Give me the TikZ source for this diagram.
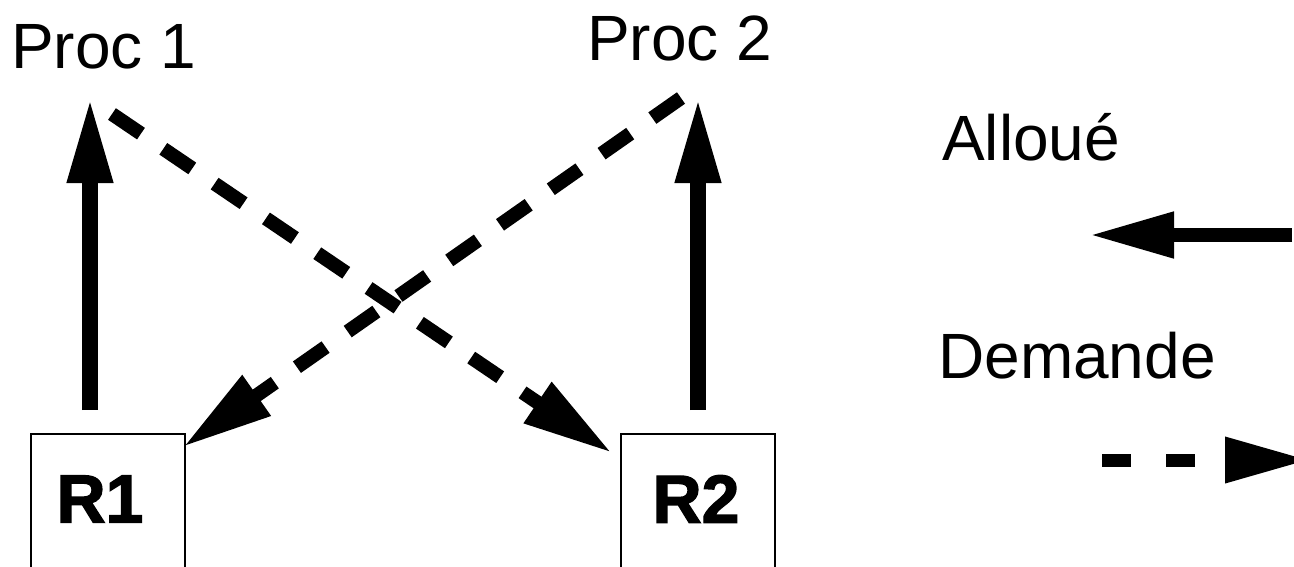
\documentclass[tikz,border=0pt]{standalone}
\usepackage{fontspec}
\setmainfont{Liberation Sans}
\newfontfamily\heavyfont[FakeBold=2]{Liberation Sans Bold}
\usetikzlibrary{arrows.meta}
\begin{document}
\begin{tikzpicture}[x=1pt,y=-1pt,
  lbl/.style={inner sep=0pt,anchor=base west,font=\fontsize{64}{77}\selectfont},
  resbox/.style={draw,line width=2pt,minimum width=154pt,minimum height=142pt,inner sep=0pt,anchor=north west},
  restext/.style={inner sep=0pt,font=\heavyfont\fontsize{68}{80}\selectfont},
  alloc/.style={line width=16pt,-{Triangle[length=86pt,width=42pt]}},
  reqst/.style={line width=14pt,dash pattern=on 35pt off 27pt,-{Triangle[length=90pt,width=46pt]}},
  legsolid/.style={line width=14pt,-{Triangle[length=85pt,width=43pt]}},
  legdash/.style={line width=13pt,dash pattern=on 29pt off 35pt,-{Triangle[length=85pt,width=43pt]}}]
\useasboundingbox (0,0) rectangle (1294,566);
% labels
\node[lbl] (p1) at (11,68) {Proc 1};
\node[lbl] (p2) at (587,60) {Proc 2};
\node[lbl] (lalloc) at (942,160) {Allou\'e};
\node[lbl] (ldem) at (938,378) {Demande};
% resources
\node[resbox] (r1) at (30,433) {};
\node[resbox] (r2) at (620,433) {};
\node[restext] (r1t) at (100,499) {R1};
\node[restext] (r2t) at (696,499) {R2};
% connector ends
\coordinate (a1s) at (90,410);
\coordinate (a1e) at (90,97);
\coordinate (a2s) at (698,410);
\coordinate (a2e) at (698,97);
\coordinate (d1s) at (112,114);
\coordinate (d1e) at (612,453);
\coordinate (d2s) at (681,98);
\coordinate (d2e) at (183,447);
\coordinate (ls1) at (1292,235);
\coordinate (ls2) at (1089,235);
\coordinate (ld1) at (1102,460);
\coordinate (ld2) at (1310,460);
% allocations
\draw[alloc] (a1s) -- (a1e);
\draw[alloc] (a2s) -- (a2e);
% requests
\draw[reqst] (d1s) -- (d1e);
\draw[reqst] (d2s) -- (d2e);
% legend
\draw[legsolid] (ls1) -- (ls2);
\draw[legdash] (ld1) -- (ld2);
\end{tikzpicture}
\end{document}
